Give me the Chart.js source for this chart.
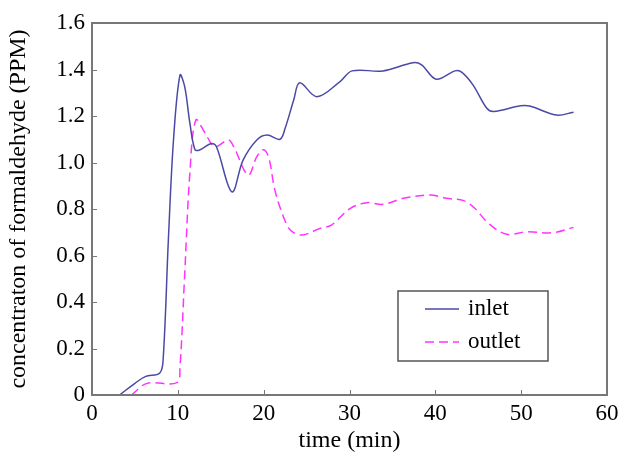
<!DOCTYPE html>
<html>
<head>
<meta charset="utf-8">
<script src="https://cdn.jsdelivr.net/npm/chart.js@4"></script>
<style>
html,body{margin:0;padding:0;background:#fff;}
#wrap{width:631px;height:457px;position:relative;}
</style>
</head>
<body>
<div id="wrap"><canvas id="c" width="631" height="457"></canvas></div>
<script>
const inletTime = [3.2, 5, 6.2, 7.9, 8.3, 8.9, 9.5, 10.25, 10.8, 11.4, 12.0, 12.6, 13.9, 14.5, 16.3, 17.6, 19.2, 20.4, 21.9, 22.5, 23.5, 24.2, 26.2, 28.9, 30.3, 33.9, 37.4, 38.4, 40.1, 42.3, 43.1, 44.4, 46.0, 46.8, 49.9, 51.0, 54.1, 56.1];
const inletConc = [0, 0.05, 0.079, 0.095, 0.16, 0.67, 1.10, 1.376, 1.326, 1.17, 1.055, 1.055, 1.082, 1.068, 0.874, 1.01, 1.097, 1.118, 1.10, 1.147, 1.269, 1.343, 1.283, 1.348, 1.394, 1.394, 1.429, 1.42, 1.358, 1.394, 1.388, 1.333, 1.233, 1.219, 1.244, 1.243, 1.204, 1.216];
const outletTime = [4.6, 6.4, 9.9, 10.25, 10.8, 11.4, 12.1, 13.2, 14.3, 15.9, 16.5, 18.2, 19.2, 20.0, 20.6, 21.3, 22.3, 23.1, 24.4, 26.6, 27.9, 30.1, 32.0, 33.9, 36.3, 39.4, 41.3, 43.3, 44.6, 46.2, 48.3, 50.6, 53.7, 56.1];
const outletConc = [0, 0.05, 0.053, 0.12, 0.52, 0.953, 1.183, 1.125, 1.068, 1.097, 1.068, 0.946, 1.025, 1.055, 1.02, 0.882, 0.767, 0.71, 0.688, 0.717, 0.731, 0.803, 0.827, 0.82, 0.846, 0.86, 0.846, 0.836, 0.803, 0.738, 0.691, 0.702, 0.698, 0.721];
const seriesNames = ['inlet', 'outlet'];
const xTitle = 'time (min)';
const yTitle = 'concentraton of formaldehyde (PPM)';

const FONT = '"Liberation Serif", "Times New Roman", serif';
const toPts = (xs, ys) => xs.map((x, i) => ({x: x, y: ys[i]}));

const framePlugin = {
  id: 'frame',
  afterDatasetsDraw(chart) {
    const {ctx, chartArea: a, scales} = chart;
    ctx.save();
    ctx.strokeStyle = '#777';
    ctx.lineWidth = 1;
    scales.y.ticks.forEach(t => {
      const py = Math.round(scales.y.getPixelForValue(t.value)) + 0.5;
      ctx.beginPath(); ctx.moveTo(a.left, py); ctx.lineTo(a.left + 5, py); ctx.stroke();
    });
    scales.x.ticks.forEach(t => {
      const px = Math.round(scales.x.getPixelForValue(t.value)) + 0.5;
      ctx.beginPath(); ctx.moveTo(px, a.bottom); ctx.lineTo(px, a.bottom - 5); ctx.stroke();
    });
    ctx.lineWidth = 2;
    ctx.strokeRect(a.left, a.top, a.right - a.left, a.bottom - a.top);
    const lx = a.left + 306, ly = a.top + 268, lw = 150, lh = 70;
    ctx.fillStyle = '#fff';
    ctx.fillRect(lx, ly, lw, lh);
    ctx.lineWidth = 1.5;
    ctx.strokeStyle = '#555';
    ctx.strokeRect(lx, ly, lw, lh);
    chart.data.datasets.forEach((ds, i) => {
      const yy = ly + 18 + i * 33;
      ctx.strokeStyle = ds.borderColor;
      ctx.lineWidth = ds.borderWidth;
      ctx.setLineDash(ds.borderDash || []);
      ctx.beginPath(); ctx.moveTo(lx + 27, yy); ctx.lineTo(lx + 61, yy); ctx.stroke();
      ctx.setLineDash([]);
      ctx.fillStyle = '#000';
      ctx.font = '23px ' + FONT;
      ctx.textBaseline = 'middle';
      ctx.textAlign = 'left';
      ctx.fillText(ds.label, lx + 70, yy);
    });
    ctx.restore();
  }
};

new Chart(document.getElementById('c'), {
  type: 'line',
  data: {
    datasets: [
      {label: seriesNames[0], data: toPts(inletTime, inletConc), borderColor: '#4a4aa6', borderWidth: 1.5, pointRadius: 0, tension: 0.35, fill: false},
      {label: seriesNames[1], data: toPts(outletTime, outletConc), borderColor: '#ff33ff', borderWidth: 1.5, borderDash: [9, 5], pointRadius: 0, tension: 0.35, fill: false}
    ]
  },
  options: {
    responsive: false,
    animation: false,
    layout: {padding: {top: 23, right: 24, left: 0, bottom: 0}},
    plugins: {legend: {display: false}, tooltip: {enabled: false}},
    scales: {
      x: {
        type: 'linear', min: 0, max: 60,
        ticks: {stepSize: 10, color: '#000', font: {family: FONT, size: 23}, padding: 5, maxRotation: 0},
        grid: {display: false, drawTicks: false},
        border: {display: false},
        title: {display: true, text: xTitle, color: '#000', font: {family: FONT, size: 24}, padding: {top: 0, bottom: 2}},
        afterFit(s) { s.height = 62; }
      },
      y: {
        min: 0, max: 1.6,
        ticks: {stepSize: 0.2, color: '#000', font: {family: FONT, size: 23}, padding: 7,
          callback: v => (Math.abs(v) < 1e-9 ? '0' : v.toFixed(1))},
        grid: {display: false, drawTicks: false},
        border: {display: false},
        title: {display: true, text: yTitle, color: '#000', font: {family: FONT, size: 24}, padding: {top: 4, bottom: 0}},
        afterFit(s) { s.width = 92; }
      }
    }
  },
  plugins: [framePlugin]
});
</script>
</body>
</html>
